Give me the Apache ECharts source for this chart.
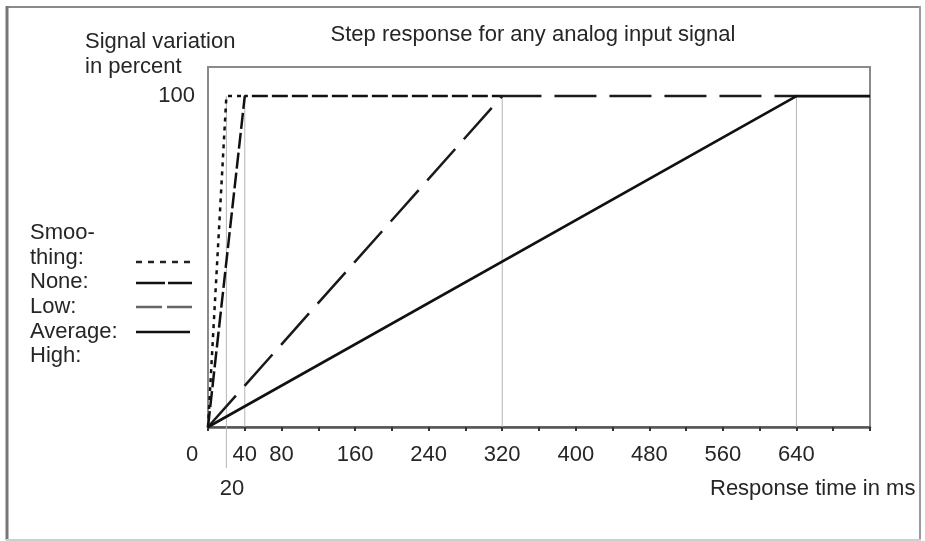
<!DOCTYPE html>
<html><head><meta charset="utf-8">
<script src="https://cdn.jsdelivr.net/npm/echarts@6/dist/echarts.min.js"></script>
<style>html,body{margin:0;padding:0;background:#fff}#c{width:925px;height:541px}</style>
</head><body><div id="c"></div>
<script>
// Step response per smoothing level: [time in ms, signal variation in %]
const smoothingNone = [[0, 0], [20, 100], [40, 100]];
const smoothingLow = [[0, 0], [40, 100], [320, 100]];
const smoothingAverage = [[0, 0], [320, 100], [640, 100]];
const smoothingHigh = [[0, 0], [640, 100], [720, 100]];

// Axis labels
const xTickLabels = [0, 40, 80, 160, 240, 320, 400, 480, 560, 640];
const yTickLabels = [100];

// Thin guide lines: [time, lower end in %]
const guideTimes = [20, 40, 320, 640];
const guideBottoms = [-12.4, 0, 0, 0];

const legendRows = ['Smoo-', 'thing:', 'None:', 'Low:', 'Average:', 'High:'];

const FAMILY = '"Liberation Sans", Arial, sans-serif';
const FONT = '22px ' + FAMILY;
const TXT = '#262626';

const chart = echarts.init(document.getElementById('c'), null, { renderer: 'canvas' });

const guideSeries = guideTimes.map((t, i) => ({
  type: 'line', silent: true, symbol: 'none', clip: false, z: 1,
  lineStyle: { color: '#b5b5b5', width: 1 },
  data: [[t, 100], [t, guideBottoms[i]]]
}));

function stepSeries(data, dash, width, color) {
  return {
    type: 'line', symbol: 'none', z: 3, data: data,
    lineStyle: { color: color, width: width, type: dash, cap: 'butt' }
  };
}

function text(str, x, y, align) {
  return {
    type: 'text', silent: true,
    style: { text: str, x: x, y: y, fill: TXT, font: FONT, align: align || 'left', verticalAlign: 'middle' }
  };
}

function seg(x1, y1, x2, y2, color, w, dash) {
  return {
    type: 'line', silent: true,
    shape: { x1: x1, y1: y1, x2: x2, y2: y2 },
    style: { stroke: color, lineWidth: w, lineDash: dash || null }
  };
}

const legendY = [233, 258, 282, 307, 332, 356];

const graphics = [
  // outer frame
  seg(6, 7, 921, 7, '#8a8a8a', 2),
  seg(7, 6, 7, 540, '#777', 3),
  seg(920, 6, 920, 540, '#9a9a9a', 2),
  seg(6, 540, 921, 540, '#cfcfcf', 2),
  text('Step response for any analog input signal', 533, 35, 'center'),
  text('Signal variation', 85, 42),
  text('in percent', 85, 67),
  text('20', 232, 489, 'center'),
  text('Response time in ms', 710, 489),
  // legend samples
  seg(136, 262, 192, 262, '#222', 2.5, [6, 6]),
  seg(136, 283, 192, 283, '#111', 2.5, [29, 3]),
  seg(136, 307, 192, 307, '#666', 2.5, [26, 5]),
  seg(136, 332, 190, 332, '#111', 2.5)
];
legendRows.forEach((r, i) => graphics.push(text(r, 30, legendY[i])));

chart.setOption({
  animation: false,
  backgroundColor: '#fff',
  grid: { left: 208, right: 55, top: 67, bottom: 114, show: true, borderColor: '#8a8a8a', borderWidth: 2 },
  xAxis: {
    type: 'value', min: 0, max: 720, interval: 40,
    axisLine: { show: true, lineStyle: { color: '#555', width: 2.5 } },
    axisTick: { show: true, length: 4, lineStyle: { color: '#333', width: 2 } },
    splitLine: { show: false },
    axisLabel: {
      margin: 17, color: TXT, fontSize: 22, fontFamily: FAMILY,
      showMinLabel: true, showMaxLabel: true,
      formatter: v => xTickLabels.includes(v) ? (v === 0 ? '{z|0}' : String(v)) : '',
      rich: { z: { padding: [0, 32, 0, 0], fontSize: 22, color: TXT, fontFamily: FAMILY } }
    }
  },
  yAxis: {
    type: 'value', min: 0, max: 108.8, interval: 100,
    axisLine: { show: true, lineStyle: { color: '#8a8a8a', width: 2 } },
    axisTick: { show: false },
    splitLine: { show: false },
    axisLabel: {
      margin: 13, color: TXT, fontSize: 22, fontFamily: FAMILY,
      showMaxLabel: false,
      formatter: v => yTickLabels.includes(v) ? String(v) : ''
    }
  },
  series: guideSeries.concat([
    stepSeries(smoothingNone, [4, 5], 2.5, '#111'),
    stepSeries(smoothingLow, [16, 4], 2.5, '#111'),
    stepSeries(smoothingAverage, [42, 13], 2.5, '#1a1a1a'),
    stepSeries(smoothingHigh, 'solid', 2.6, '#111')
  ]),
  graphic: graphics
});
</script>
</body></html>
